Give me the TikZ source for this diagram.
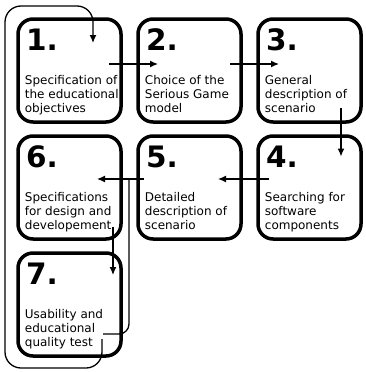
\documentclass[tikz,border=0pt]{standalone}
\usepackage{fontspec}
\setmainfont{DejaVu Sans}
\usepackage{tikz}
\usetikzlibrary{positioning, calc, arrows.meta}

\begin{document}
\begin{tikzpicture}[x=1pt, y=1pt]
\useasboundingbox (0,0) rectangle (365,-372);
\tikzstyle{stepbox}=[draw=black, line width=3.5pt, rounded corners=15pt, minimum width=103pt, minimum height=103pt, inner sep=0pt, outer sep=0pt]
\tikzstyle{numr}=[inner sep=0pt, font=\fontsize{29.5}{29.5}\selectfont\bfseries]
\tikzstyle{descr}=[inner sep=0pt, align=left, font=\fontsize{12}{14}\selectfont]
\tikzstyle{flow}=[line width=1.3pt, -{Latex[length=8pt, width=7pt]}]
\tikzstyle{backline}=[line width=1.3pt]
%%
\node (b1) at (69.5,-70.5) [stepbox] {};
\node (b2) at (189.5,-70.5) [stepbox] {};
\node (b3) at (309.5,-70.5) [stepbox] {};
\node (b4) at (309.5,-187.5) [stepbox] {};
\node (b5) at (189.5,-187.5) [stepbox] {};
\node (b6) at (69.5,-187.5) [stepbox] {};
\node (b7) at (69.5,-304.5) [stepbox] {};

\node [below right=9.3pt and 8pt of b1.north west, numr] (n1) {1.};
\node [below right=9.3pt and 8pt of b2.north west, numr] (n2) {2.};
\node [below right=9.3pt and 8pt of b3.north west, numr] (n3) {3.};
\node [below right=9.3pt and 8pt of b4.north west, numr] (n4) {4.};
\node [below right=9.3pt and 8pt of b5.north west, numr] (n5) {5.};
\node [below right=9.3pt and 8pt of b6.north west, numr] (n6) {6.};
\node [below right=9.3pt and 8pt of b7.north west, numr] (n7) {7.};

\node [below right=56pt and 6.7pt of b1.north west, descr] (d1) {Specification of\\the educational\\objectives};
\node [below right=56pt and 6.7pt of b2.north west, descr] (d2) {Choice of the\\Serious Game\\model};
\node [below right=56pt and 6.7pt of b3.north west, descr] (d3) {General\\description of\\scenario};
\node [below right=56pt and 6.7pt of b4.north west, descr] (d4) {Searching for\\software\\components};
\node [below right=56pt and 6.7pt of b5.north west, descr] (d5) {Detailed\\description of\\scenario};
\node [below right=56pt and 6.7pt of b6.north west, descr] (d6) {Specifications\\for design and\\developement};
\node [below right=56pt and 6.7pt of b7.north west, descr] (d7) {Usability and\\educational\\quality test};

\draw [flow] ([shift={(-12pt,6.5pt)}]b1.east) -- ([shift={(20pt,6.5pt)}]b2.west);
\draw [flow] ([shift={(-11pt,6.5pt)}]b2.east) -- ([shift={(21pt,6.5pt)}]b3.west);
\draw [flow] ([shift={(31.5pt,14pt)}]b3.south) -- ([shift={(31.5pt,-20.5pt)}]b4.north);
\draw [flow] ([shift={(11pt,8.5pt)}]b4.west) -- ([shift={(-23pt,8.5pt)}]b5.east);
\draw [flow] ([shift={(6pt,8.5pt)}]b5.west) -- ([shift={(-24pt,8.5pt)}]b6.east);
\draw [flow] ([shift={(43.5pt,12.5pt)}]b6.south) -- ([shift={(43.5pt,-22pt)}]b7.north);

%% back to 6 and back to 1
\draw [backline, rounded corners=10pt] ([shift={(-18pt,22pt)}]b7.south east) -| ([shift={(8pt,8.5pt)}]b6.east);
\draw [flow, rounded corners=16pt] ([shift={(-19pt,17pt)}]b7.south east) -- ++(0,-29) -- ++(-97,0) -- ++(0,362) -- ++(88,0) -- ([shift={(75pt,-24pt)}]b1.north west);
\end{tikzpicture}
\end{document}
